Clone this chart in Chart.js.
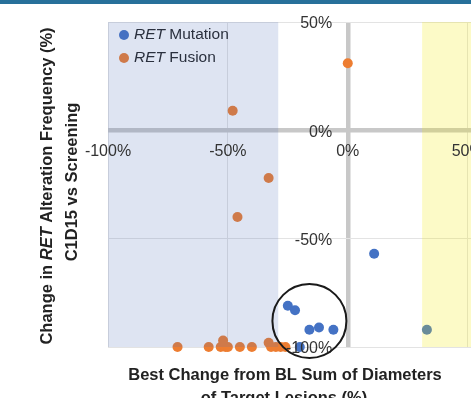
<!DOCTYPE html>
<html>
<head>
<meta charset="utf-8">
<script src="https://cdn.jsdelivr.net/npm/chart.js@4"></script>
<style>
  html, body { margin: 0; padding: 0; overflow: hidden; background: #fff; }
  #wrap { position: absolute; left: 0; top: 0; width: 620px; height: 398px; }
  #topBar { position: absolute; left: 0; top: 0; width: 471px; height: 4px; background: #27709a; }
</style>
</head>
<body>
<div id="wrap"><canvas id="scatterChart"></canvas></div>
<div id="topBar"></div>
<script>
// best change in target lesions (%) vs change in RET alteration frequency (%)
var mutationX = [11, 33, -25, -22, -16, -12, -6, -20];
var mutationY = [-57, -92, -81, -83, -92, -91, -92, -100];

var fusionX = [0, -48, -33, -46, -71, -58, -53, -51, -50, -52, -45, -40, -33, -32, -30, -28, -26];
var fusionY = [31, 9, -22, -40, -100, -100, -100, -100, -100, -97, -100, -100, -98, -100, -100, -100, -100];

var xTicks = [-100, -50, 0, 50, 100];
var yTicks = [-100, -50, 0, 50];

var seriesNames = ['Mutation', 'Fusion'];
var seriesColors = ['#4472c4', '#ed7d31'];

// shaded response bands (x range, %)
var prBand = [-100, -29];
var pdBand = [31, 100];
// circled cluster (centre in %)
var circleCentre = [-16, -88];

var FONT = '"Liberation Sans", Arial, Helvetica, sans-serif';

function toPoints(xs, ys) {
    return xs.map(function (v, i) { return { x: v, y: ys[i] }; });
}

function gridColor(c) { return c.tick && c.tick.value === 0 ? '#c8c8c8' : '#e3e3e3'; }
function gridWidth(c) { return c.tick && c.tick.value === 0 ? 4.5 : 1; }

// draws text made of several font runs; centred on x unless left is true
function drawRich(ctx, parts, x, y, left) {
    var total = 0;
    parts.forEach(function (p) { ctx.font = p[1]; total += ctx.measureText(p[0]).width; });
    if (!left) x = x - total / 2;
    ctx.textAlign = 'left';
    parts.forEach(function (p) {
        ctx.font = p[1];
        ctx.fillText(p[0], x, y);
        x += ctx.measureText(p[0]).width;
    });
}

var overlay = {
    id: 'overlay',
    beforeDatasetsDraw: function (chart) {
        // legend inside the plot
        var ctx = chart.ctx, a = chart.chartArea;
        ctx.save();
        ctx.textBaseline = 'middle';
        seriesNames.forEach(function (name, i) {
            var cy = a.top + 13 + i * 23;
            ctx.beginPath();
            ctx.fillStyle = seriesColors[i];
            ctx.arc(a.left + 16, cy, 5, 0, Math.PI * 2);
            ctx.fill();
            ctx.fillStyle = '#222';
            drawRich(ctx, [['RET', 'italic 15.5px ' + FONT], [' ' + name, '15.5px ' + FONT]], a.left + 26, cy, true);
        });
        ctx.restore();
    },
    afterDatasetsDraw: function (chart) {
        var ctx = chart.ctx, a = chart.chartArea, xs = chart.scales.x;
        ctx.save();
        ctx.fillStyle = 'rgba(80, 110, 185, 0.19)';
        var x0 = xs.getPixelForValue(prBand[0]), x1 = xs.getPixelForValue(prBand[1]);
        ctx.fillRect(x0, a.top, x1 - x0, a.bottom - a.top);
        ctx.fillStyle = 'rgba(240, 230, 0, 0.22)';
        x0 = xs.getPixelForValue(pdBand[0]); x1 = xs.getPixelForValue(pdBand[1]);
        ctx.fillRect(x0, a.top, x1 - x0, a.bottom - a.top);
        ctx.restore();
    },
    afterDraw: function (chart) {
        var ctx = chart.ctx, xs = chart.scales.x, ys = chart.scales.y;
        ctx.save();
        ctx.beginPath();
        ctx.lineWidth = 2;
        ctx.strokeStyle = '#1a1a1a';
        ctx.arc(xs.getPixelForValue(circleCentre[0]), ys.getPixelForValue(circleCentre[1]), 37, 0, Math.PI * 2);
        ctx.stroke();

        ctx.fillStyle = '#222';
        ctx.textBaseline = 'alphabetic';
        var b = 'bold 16.5px ' + FONT, bi = 'italic bold 16.5px ' + FONT;
        drawRich(ctx, [['Best Change from BL Sum of Diameters', b]], 285, 380);
        drawRich(ctx, [['of Target Lesions (%)', b]], 284, 403);

        ctx.translate(52, 186);
        ctx.rotate(-Math.PI / 2);
        drawRich(ctx, [['Change in ', b], ['RET', bi], [' Alteration Frequency (%)', b]], 0, 0);
        ctx.rotate(Math.PI / 2);
        ctx.translate(25, -4);
        ctx.rotate(-Math.PI / 2);
        drawRich(ctx, [['C1D15 vs Screening', b]], 0, 0);
        ctx.restore();
    }
};

var ctx = document.getElementById('scatterChart').getContext('2d');
var chart = new Chart(ctx, {
    type: 'scatter',
    data: {
        datasets: [{
            label: 'RET Mutation',
            data: toPoints(mutationX, mutationY),
            backgroundColor: seriesColors[0],
            borderWidth: 0,
            pointRadius: 5,
            clip: false,
        }, {
            label: 'RET Fusion',
            data: toPoints(fusionX, fusionY),
            backgroundColor: seriesColors[1],
            borderWidth: 0,
            pointRadius: 5,
            clip: false,
        }]
    },
    options: {
        responsive: true,
        maintainAspectRatio: false,
        animation: false,
        layout: {
            padding: { left: 108, top: 22, right: 31, bottom: 51 }
        },
        plugins: {
            legend: { display: false },
            tooltip: { enabled: false }
        },
        scales: {
            x: {
                type: 'linear',
                min: xTicks[0],
                max: xTicks[xTicks.length - 1],
                position: { y: 0 },
                afterBuildTicks: function (s) { s.ticks = xTicks.map(function (v) { return { value: v }; }); },
                ticks: {
                    callback: function (v) { return v + '%'; },
                    font: { family: FONT, size: 16 },
                    color: '#333',
                    padding: 12,
                    maxRotation: 0,
                    z: 1
                },
                grid: { color: gridColor, lineWidth: gridWidth, drawTicks: false },
                border: { display: false }
            },
            y: {
                type: 'linear',
                min: yTicks[0],
                max: yTicks[yTicks.length - 1],
                // labels sit just left of the x = 0 line
                position: { x: -6.5 },
                afterBuildTicks: function (s) { s.ticks = yTicks.map(function (v) { return { value: v }; }); },
                ticks: {
                    callback: function (v) { return v + '%'; },
                    font: { family: FONT, size: 16 },
                    color: '#333',
                    labelOffset: 2,
                    z: 1
                },
                grid: { color: gridColor, lineWidth: gridWidth, drawTicks: false },
                border: { display: false }
            }
        }
    },
    plugins: [overlay]
});
</script>
</body>
</html>
